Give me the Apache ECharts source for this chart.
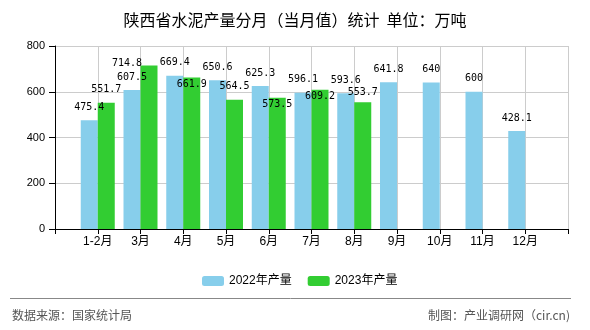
<!DOCTYPE html>
<html>
<head>
<meta charset="utf-8">
<script src="https://cdn.jsdelivr.net/npm/echarts@6/dist/echarts.min.js"></script>
<style>html,body{margin:0;padding:0;background:#fff;}#c{width:590px;height:330px;}</style>
</head>
<body>
<div id="c"></div>
<script>
var months = ['1-2月','3月','4月','5月','6月','7月','8月','9月','10月','11月','12月'];
var output2022 = [475.4, 607.5, 669.4, 650.6, 625.3, 596.1, 593.6, 641.8, 640, 600, 428.1];
var output2023 = [551.7, 714.8, 661.9, 564.5, 573.5, 609.2, 553.7];
var seriesNames = ['2022年产量', '2023年产量'];
var yTicks = [0, 200, 400, 600, 800];

// label placement tweaks (style only)
var labelOffsets2023 = [[0,0],[-22,11],[0,20],[0,0],[0,20],[0,20],[0,3]];

var axisCats = [''].concat(months).concat(['']);
function pad(vals, offs) {
  var out = ['-'];
  for (var i = 0; i < months.length; i++) {
    if (i < vals.length) {
      var item = {value: vals[i]};
      if (offs && offs[i]) item.label = {offset: offs[i]};
      out.push(item);
    } else out.push('-');
  }
  out.push('-');
  return out;
}
var labelStyle = {
  show: true, position: 'top', distance: 7,
  fontFamily: 'DejaVu Sans Mono', fontSize: 10, lineHeight: 12, color: '#000'
};
var chart = echarts.init(document.getElementById('c'));
chart.setOption({
  backgroundColor: '#fff',
  animation: false,
  title: {
    text: '陕西省水泥产量分月（当月值）统计  单位：万吨',
    left: 'center', top: 7,
    textStyle: {fontSize: 16, fontWeight: 'normal', color: '#000', fontFamily: 'Noto Sans CJK SC'}
  },
  legend: {
    data: seriesNames,
    left: 197, top: 270,
    itemWidth: 22, itemHeight: 10, itemGap: 16,
    textStyle: {fontSize: 12, color: '#000', fontFamily: 'Liberation Sans, Noto Sans CJK SC'}
  },
  grid: {left: 55, right: 22, top: 46, bottom: 101},
  xAxis: {
    type: 'category', data: axisCats, boundaryGap: false,
    axisLine: {lineStyle: {color: '#000'}},
    axisTick: {show: true, interval: 0, length: 5, lineStyle: {color: '#000'}},
    axisLabel: {interval: 0, margin: 7, fontSize: 12, color: '#000', fontFamily: 'Liberation Sans, Noto Sans CJK SC'},
    splitLine: {show: true, interval: 0, lineStyle: {color: '#ccc'}}
  },
  yAxis: {
    type: 'value', min: yTicks[0], max: yTicks[yTicks.length-1], interval: 200,
    axisLine: {show: true, lineStyle: {color: '#000'}},
    axisTick: {show: true, length: 6, lineStyle: {color: '#000'}},
    axisLabel: {margin: 10, fontSize: 11, color: '#000', fontFamily: 'Liberation Sans'},
    splitLine: {show: true, lineStyle: {color: '#ccc'}}
  },
  series: [
    {name: seriesNames[0], type: 'bar', barWidth: 17, barGap: '0%', data: pad(output2022),
     itemStyle: {color: '#87CEEB'}, label: labelStyle},
    {name: seriesNames[1], type: 'bar', barWidth: 17, barGap: '0%', data: pad(output2023, labelOffsets2023),
     itemStyle: {color: '#32CD32'}, label: labelStyle}
  ],
  graphic: [
    {type: 'line', shape: {x1: 10, y1: 298.5, x2: 571, y2: 298.5}, style: {stroke: '#888', lineWidth: 1}},
    {type: 'text', left: 12, top: 309, style: {text: '数据来源：国家统计局', fontSize: 12, fill: '#555', fontFamily: 'Noto Sans CJK SC'}},
    {type: 'text', right: 20, top: 309, style: {text: '制图：产业调研网（cir.cn)', fontSize: 12, fill: '#555', fontFamily: 'Noto Sans CJK SC'}}
  ]
});
</script>
</body>
</html>
